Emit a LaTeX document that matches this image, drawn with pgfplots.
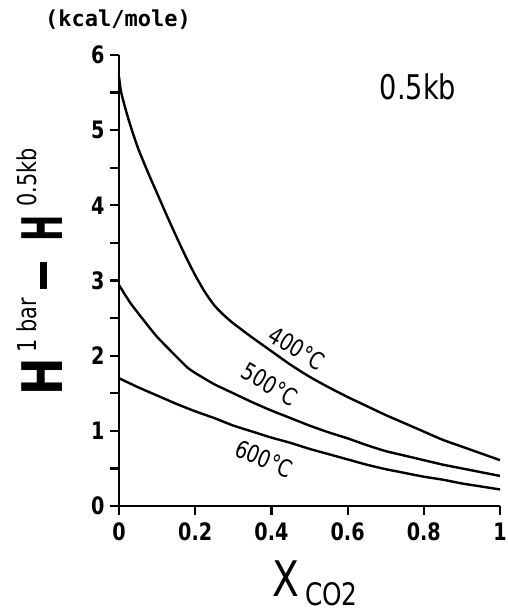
\documentclass[border=0pt]{standalone}
\usepackage{fontspec}
\setmainfont{DejaVu Sans}[FakeStretch=0.8]
\newfontfamily\monof{DejaVu Sans Mono}
\usepackage{graphicx}
\usepackage{pgfplots}
\pgfplotsset{compat=1.18}
\begin{document}
\begin{tikzpicture}
\path[use as bounding box] (-119pt,-108pt) rectangle (388pt,506pt);
\begin{axis}[
  at={(0pt,0pt)}, anchor=south west,
  scale only axis, width=381pt, height=451pt,
  xmin=0, xmax=1, ymin=0, ymax=6,
  axis x line=bottom, axis y line=left,
  axis line style={-, line width=2.6pt},
  every outer x axis line/.append style={-},
  every outer y axis line/.append style={-},
  xtick={0,0.2,0.4,0.6,0.8,1},
  xticklabels={0,0.2,0.4,0.6,0.8,1},
  ytick={0,1,2,3,4,5,6},
  minor ytick={0.5,1.5,2.5,3.5,4.5,5.5},
  tick align=outside,
  major tick length=9pt, minor tick length=9pt,
  tick style={line width=2.2pt, black},
  /pgf/number format/assume math mode=true,
  tick label style={font=\bfseries\fontsize{24}{24}\selectfont},
  yticklabel style={xshift=-2pt},
  xticklabel style={yshift=-4pt},
  clip=false,
]
\addplot[line width=2.4pt, smooth, tension=0.35] coordinates {
(0,5.71) (0.005,5.52) (0.015,5.32) (0.03,5.06) (0.05,4.76) (0.075,4.45)
(0.10,4.16) (0.125,3.87) (0.15,3.59) (0.175,3.32) (0.20,3.07) (0.225,2.85)
(0.25,2.67) (0.275,2.54) (0.30,2.43) (0.35,2.24) (0.40,2.06) (0.45,1.88)
(0.50,1.72) (0.55,1.58) (0.60,1.45) (0.65,1.33) (0.70,1.21) (0.75,1.10)
(0.80,0.99) (0.85,0.88) (0.90,0.79) (0.95,0.70) (1.00,0.61)
};
\addplot[line width=2.4pt, smooth, tension=0.35] coordinates {
(0,2.94) (0.03,2.70) (0.065,2.47) (0.10,2.25) (0.15,1.99) (0.18,1.84)
(0.20,1.77) (0.25,1.62) (0.30,1.50) (0.35,1.38) (0.40,1.27) (0.45,1.17)
(0.50,1.07) (0.55,0.98) (0.60,0.90) (0.65,0.81) (0.70,0.73) (0.75,0.67)
(0.80,0.61) (0.85,0.55) (0.90,0.50) (0.95,0.45) (1.00,0.40)
};
\addplot[line width=2.4pt, smooth, tension=0.35] coordinates {
(0,1.70) (0.05,1.58) (0.10,1.47) (0.15,1.36) (0.20,1.26) (0.25,1.17)
(0.30,1.07) (0.35,0.99) (0.40,0.91) (0.45,0.84) (0.50,0.76) (0.55,0.69)
(0.60,0.62) (0.65,0.55) (0.70,0.49) (0.75,0.44) (0.80,0.39) (0.85,0.35)
(0.90,0.30) (0.95,0.26) (1.00,0.22)
};
\node[rotate=-31, font=\fontsize{24}{24}\selectfont, inner sep=0] at (axis cs:0.467,2.10) {400°C};
\node[rotate=-30, font=\fontsize{24}{24}\selectfont, inner sep=0] at (axis cs:0.396,1.62) {500°C};
\node[rotate=-23, font=\fontsize{24}{24}\selectfont, inner sep=0] at (axis cs:0.381,0.63) {600°C};
\end{axis}
\node[font=\fontsize{34}{34}\selectfont, inner sep=0] at (299pt,419pt) {0.5kb};
\node[font=\monof\bfseries\fontsize{22}{22}\selectfont, inner sep=0] at (-1pt,486pt) {(kcal/mole)};
\node[rotate=90, anchor=base, inner sep=0] at (-56pt,234pt) {\fontsize{56}{56}\selectfont\bfseries H\hspace{6pt}\raisebox{26pt}{\fontsize{26}{26}\selectfont\mdseries 1 bar}\hspace{9pt}\rule[16pt]{27pt}{7pt}\hspace{20pt}\scalebox{0.7}[1]{H}\hspace{9pt}\raisebox{26pt}{\fontsize{26}{26}\selectfont\mdseries 0.5kb}};
\node[anchor=base, inner sep=0] at (196pt,-90pt) {\fontsize{49}{49}\selectfont X\hspace{6pt}\raisebox{-9pt}{\fontsize{31}{31}\selectfont CO2}};
\end{tikzpicture}
\end{document}
